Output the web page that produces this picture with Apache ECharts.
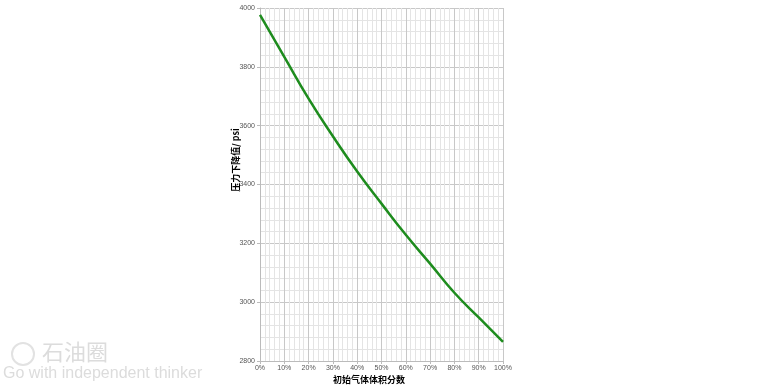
<!DOCTYPE html>
<html>
<head>
<meta charset="utf-8">
<script src="https://cdn.jsdelivr.net/npm/echarts@6/dist/echarts.min.js"></script>
<style>
html,body{margin:0;padding:0;background:#fff;}
#c{width:775px;height:388px;}
</style>
</head>
<body>
<div id="c"></div>
<script>
// Data
var gasFraction = [0, 10, 20, 30, 40, 50, 60, 70, 80, 90, 100];          // %
var pressureDrop = [3977, 3834, 3692, 3564, 3444, 3335, 3229, 3131, 3032, 2948, 2865]; // psi
var yTicks = [2800, 3000, 3200, 3400, 3600, 3800, 4000];
var xAxisTitle = '初始气体体积分数';
var yAxisTitle = '压力下降值/ psi';

var chart = echarts.init(document.getElementById('c'));
var pts = gasFraction.map(function (x, i) { return [x, pressureDrop[i]]; });

chart.setOption({
  animation: false,
  backgroundColor: '#fff',
  grid: { left: 260, right: 272, top: 8, bottom: 27 },
  xAxis: {
    type: 'value', min: 0, max: 100, interval: 10,
    axisLine: { show: true, lineStyle: { color: '#bbb', width: 1 } },
    axisTick: { show: true, length: 3, lineStyle: { color: '#bbb' } },
    axisLabel: { formatter: '{value}%', fontSize: 7, color: '#555', margin: 4, fontFamily: 'Arial, Liberation Sans' },
    splitLine: { show: true, lineStyle: { color: '#c8c8c8', width: 1 } },
    minorTick: { show: false, splitNumber: 5 },
    minorSplitLine: { show: true, lineStyle: { color: '#e4e4e4', width: 1 } }
  },
  yAxis: {
    type: 'value', min: yTicks[0], max: yTicks[yTicks.length - 1], interval: 200,
    axisLine: { show: true, lineStyle: { color: '#bbb', width: 1 } },
    axisTick: { show: true, length: 3, lineStyle: { color: '#bbb' } },
    axisLabel: { formatter: function (v) { return String(v); }, fontSize: 7, color: '#555', margin: 5, fontFamily: 'Arial, Liberation Sans' },
    splitLine: { show: true, lineStyle: { color: '#c8c8c8', width: 1 } },
    minorTick: { show: false, splitNumber: 5 },
    minorSplitLine: { show: true, lineStyle: { color: '#e4e4e4', width: 1 } }
  },
  graphic: [
    { type: 'text', left: 333, top: 375, style: { text: xAxisTitle, font: 'bold 9px "Noto Sans CJK SC"', fill: '#000' } },
    { type: 'text', x: 236, y: 160, rotation: Math.PI / 2, style: { text: yAxisTitle, font: 'bold 9px "Noto Sans CJK SC"', fill: '#000', align: 'center', verticalAlign: 'middle' } },
    { type: 'circle', shape: { cx: 23, cy: 354, r: 11 }, style: { fill: 'none', stroke: '#e2e2e2', lineWidth: 2 } },
    { type: 'text', left: 42, top: 341, style: { text: '石油圈', font: '22px "Noto Sans CJK SC"', fill: '#dcdcdc' } },
    { type: 'text', left: 3, top: 366, style: { text: 'Go with independent thinker', font: '16px "Liberation Sans"', fill: '#dcdcdc' } }
  ],
  series: [{
    type: 'line',
    data: pts,
    smooth: true,
    showSymbol: false,
    lineStyle: { color: '#1e8c1e', width: 2.5 }
  }]
});
</script>
</body>
</html>
